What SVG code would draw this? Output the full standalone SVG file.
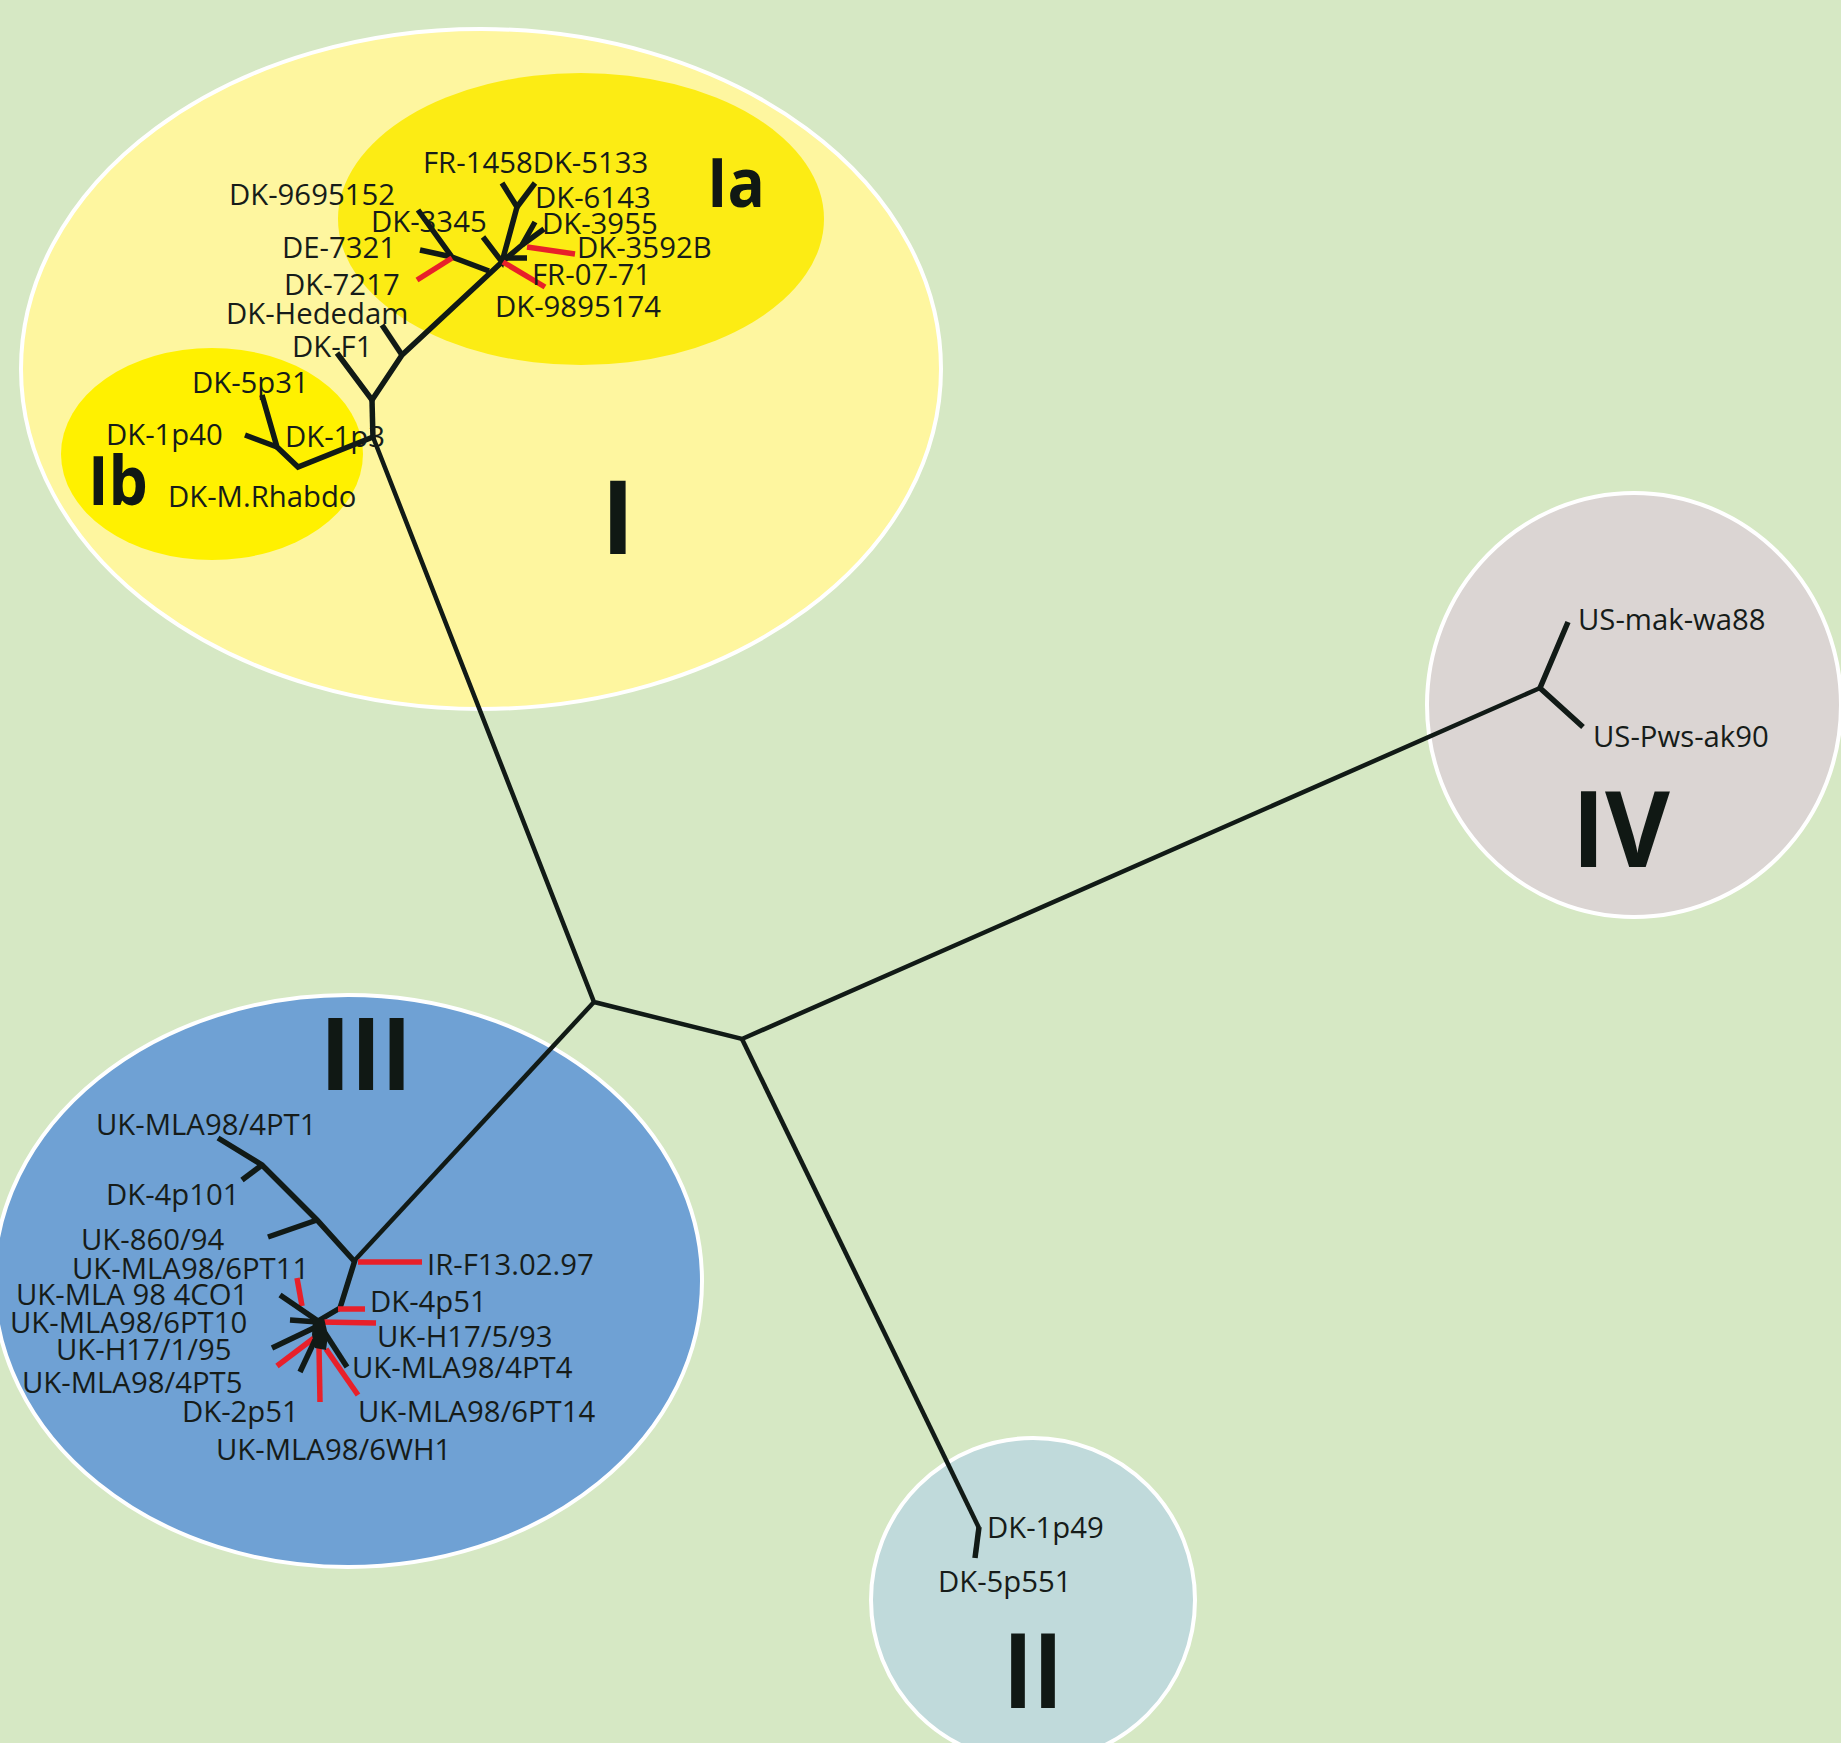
<svg xmlns="http://www.w3.org/2000/svg" width="1841" height="1743" viewBox="0 0 1841 1743">
<style>
.lbl{font-family:"Open Sans","Noto Sans","DejaVu Sans",sans-serif;font-size:29.3px;fill:#161c19}
.big{font-family:"Open Sans","Noto Sans","DejaVu Sans",sans-serif;font-weight:700;fill:#101814}
.br{fill:none;stroke:#111a16;stroke-width:5.5;stroke-linecap:butt;stroke-linejoin:miter}
.main{fill:none;stroke:#111a16;stroke-width:4.5;stroke-linecap:butt;stroke-linejoin:miter}
.red{fill:none;stroke:#e8202a;stroke-width:5.5;stroke-linecap:butt}
.grp{stroke:#ffffff;stroke-width:4}
</style>
<rect x="0" y="0" width="1841" height="1743" fill="#d6e8c4"/>
<g id="group-I">
<ellipse class="grp" cx="481" cy="369" rx="460" ry="340" fill="#fef69f"/>
<text class="big" x="601" y="554" font-size="102">I</text>
</g>
<g id="group-Ia">
<ellipse cx="581" cy="219" rx="243" ry="146" fill="#fcec14"/>
<text class="big" x="707" y="207" font-size="68" textLength="58" lengthAdjust="spacingAndGlyphs">Ia</text>
</g>
<g id="group-Ib">
<ellipse cx="212" cy="454" rx="151" ry="106" fill="#fff100"/>
<text class="big" x="88" y="505" font-size="68" textLength="60" lengthAdjust="spacingAndGlyphs">Ib</text>
</g>
<g id="group-III">
<ellipse class="grp" cx="348" cy="1281" rx="354" ry="286" fill="#6fa1d4"/>
<text class="big" x="320" y="1090" font-size="100" textLength="92" lengthAdjust="spacingAndGlyphs">III</text>
</g>
<g id="group-IV">
<ellipse class="grp" cx="1634" cy="705" rx="207" ry="212" fill="#dbd5d3"/>
<text class="big" x="1572" y="867" font-size="106" textLength="98" lengthAdjust="spacingAndGlyphs">IV</text>
</g>
<g id="group-II">
<circle class="grp" cx="1033" cy="1600" r="162" fill="#c0dadb"/>
<text class="big" x="1003" y="1708" font-size="104" textLength="60" lengthAdjust="spacingAndGlyphs">II</text>
</g>
<g id="connectors">
<polyline class="main" points="373,437 594,1002 742,1039 1540,688"/>
<polyline class="main" points="594,1002 355,1260"/>
<polyline class="main" points="742,1039 979,1528"/>
<polyline class="br" points="979,1527 975,1558"/>
<polyline class="br" points="1568,622 1540,688 1583,727"/>
<polyline class="br" points="372,400 373,440"/>
<polyline class="br" points="337,353 372,400 402,355 502,262"/>
<polyline class="br" points="382,325 402,355"/>
<polyline class="br" points="373,437 298,467 277,447 262,395"/>
<polyline class="br" points="245,435 277,447"/>
<polyline class="br" points="489,271 452,257 418,210"/>
<polyline class="br" points="420,250 452,257"/>
<polyline class="red" points="417,280 452,258"/>
<polyline class="br" points="483,237 502,262 517,207 502,183"/>
<polyline class="br" points="517,207 535,183"/>
<polyline class="br" points="502,262 522,245 535,222"/>
<polyline class="br" points="522,245 544,229"/>
<polyline class="br" points="502,258 527,258"/>
<polyline class="red" points="527,247 575,254"/>
<polyline class="red" points="503,262 545,287"/>
<polyline class="br" points="218,1138 262,1165 317,1220 355,1262"/>
<polyline class="br" points="242,1180 262,1165"/>
<polyline class="br" points="268,1237 317,1220"/>
<polyline class="red" points="358,1262 422,1262"/>
<polyline class="br" points="355,1260 340,1308 318,1321"/>
<polyline class="red" points="338,1309 365,1309"/>
<polyline class="red" points="320,1322 376,1323"/>
<polyline class="red" points="297,1278 302,1306"/>
<polyline class="br" points="280,1295 318,1321"/>
<polyline class="br" points="290,1320 318,1322"/>
<polyline class="br" points="272,1348 318,1326"/>
<polyline class="red" points="277,1366 314,1338"/>
<polyline class="br" points="300,1372 315,1340"/>
<polyline class="red" points="320,1402 319,1347"/>
<polyline class="br" points="347,1367 325,1333"/>
<polyline class="red" points="358,1395 326,1349"/>
<polygon points="313,1320 324,1318 328,1335 326,1350 315,1348 312,1335" fill="#111a16"/>
</g>
<g id="labels-Ia">
<text class="lbl" x="423" y="173">FR-1458DK-5133</text>
<text class="lbl" x="229" y="205">DK-9695152</text>
<text class="lbl" x="371" y="232">DK-3345</text>
<text class="lbl" x="535" y="208">DK-6143</text>
<text class="lbl" x="542" y="234">DK-3955</text>
<text class="lbl" x="282" y="258">DE-7321</text>
<text class="lbl" x="577" y="258">DK-3592B</text>
<text class="lbl" x="284" y="295">DK-7217</text>
<text class="lbl" x="532" y="285">FR-07-71</text>
<text class="lbl" x="495" y="317">DK-9895174</text>
<text class="lbl" x="226" y="324">DK-Hededam</text>
<text class="lbl" x="292" y="357">DK-F1</text>
</g>
<g id="labels-Ib">
<text class="lbl" x="192" y="393">DK-5p31</text>
<text class="lbl" x="106" y="445">DK-1p40</text>
<text class="lbl" x="285" y="447">DK-1p3</text>
<text class="lbl" x="168" y="507">DK-M.Rhabdo</text>
</g>
<g id="labels-IV">
<text class="lbl" x="1578" y="630">US-mak-wa88</text>
<text class="lbl" x="1593" y="747">US-Pws-ak90</text>
</g>
<g id="labels-II">
<text class="lbl" x="987" y="1538">DK-1p49</text>
<text class="lbl" x="938" y="1592">DK-5p551</text>
</g>
<g id="labels-III">
<text class="lbl" x="96" y="1135">UK-MLA98/4PT1</text>
<text class="lbl" x="106" y="1205">DK-4p101</text>
<text class="lbl" x="81" y="1250">UK-860/94</text>
<text class="lbl" x="72" y="1279">UK-MLA98/6PT11</text>
<text class="lbl" x="16" y="1305">UK-MLA 98 4CO1</text>
<text class="lbl" x="10" y="1333">UK-MLA98/6PT10</text>
<text class="lbl" x="56" y="1360">UK-H17/1/95</text>
<text class="lbl" x="22" y="1393">UK-MLA98/4PT5</text>
<text class="lbl" x="182" y="1422">DK-2p51</text>
<text class="lbl" x="216" y="1460">UK-MLA98/6WH1</text>
<text class="lbl" x="427" y="1275">IR-F13.02.97</text>
<text class="lbl" x="370" y="1312">DK-4p51</text>
<text class="lbl" x="377" y="1347">UK-H17/5/93</text>
<text class="lbl" x="352" y="1378">UK-MLA98/4PT4</text>
<text class="lbl" x="358" y="1422">UK-MLA98/6PT14</text>
</g>
</svg>
